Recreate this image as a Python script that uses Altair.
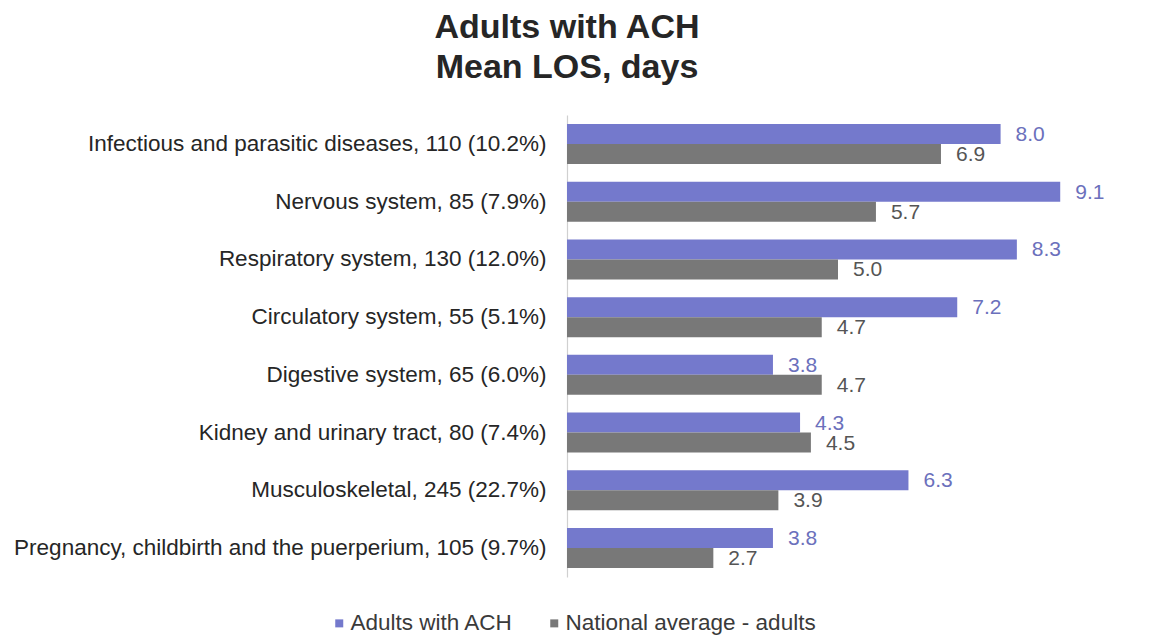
import altair as alt
import pandas as pd

# Diagnostic groups with patient count and share of admissions
categories = [
    "Infectious and parasitic diseases, 110 (10.2%)",
    "Nervous system, 85 (7.9%)",
    "Respiratory system, 130 (12.0%)",
    "Circulatory system, 55 (5.1%)",
    "Digestive system, 65 (6.0%)",
    "Kidney and urinary tract, 80 (7.4%)",
    "Musculoskeletal, 245 (22.7%)",
    "Pregnancy, childbirth and the puerperium, 105 (9.7%)",
]
series = ["Adults with ACH", "National average - adults"]
ach_los = [8.0, 9.1, 8.3, 7.2, 3.8, 4.3, 6.3, 3.8]
national_los = [6.9, 5.7, 5.0, 4.7, 4.7, 4.5, 3.9, 2.7]

colors = ["#7479CC", "#787878"]
label_colors = ["#6B70BC", "#555555"]

rows = []
for cat, a, n in zip(categories, ach_los, national_los):
    rows.append({"group": cat, "series": series[0], "los": a})
    rows.append({"group": cat, "series": series[1], "los": n})
df = pd.DataFrame(rows)

FONT = "Liberation Sans"

y_enc = alt.Y(
    "group:N",
    sort=categories,
    scale=alt.Scale(paddingInner=0.307, paddingOuter=0.156),
    axis=alt.Axis(
        title=None,
        labelFont=FONT,
        labelFontSize=22.5,
        labelColor="#262626",
        labelPadding=21,
        labelLimit=700,
        ticks=False,
        domainColor="#D0D0D0",
        domainWidth=1.2,
    ),
)
y_off = alt.YOffset("series:N", sort=series, scale=alt.Scale(paddingInner=0, paddingOuter=0))
x_enc = alt.X("los:Q", scale=alt.Scale(domain=[0, 10], nice=False), axis=None)

bars = alt.Chart(df).mark_bar(cornerRadius=0).encode(
    y=y_enc,
    yOffset=y_off,
    x=x_enc,
    color=alt.Color(
        "series:N",
        sort=series,
        scale=alt.Scale(domain=series, range=colors),
        legend=alt.Legend(
            title=None,
            orient="none",
            direction="horizontal",
            legendX=-239,
            legendY=497,
            symbolType="square",
            symbolSize=64,
            symbolStrokeWidth=0,
            labelFont=FONT,
            labelFontSize=22.5,
            labelColor="#3A3A3A",
            labelLimit=400,
            columnPadding=29,
            symbolOffset=0,
            labelOffset=0,
        ),
    ),
)

labels = alt.Chart(df).mark_text(
    align="left", baseline="middle", dx=15, dy=1, font=FONT, fontSize=21
).encode(
    y=alt.Y("group:N", sort=categories),
    yOffset=y_off,
    x=x_enc,
    text=alt.Text("los:Q", format=".1f"),
    color=alt.Color("series:N", sort=series, scale=alt.Scale(domain=series, range=label_colors), legend=None),
)

chart = (
    alt.layer(bars, labels)
    .resolve_scale(color="independent")
    .properties(
        width=542,
        height=462,
        padding={"left": 567, "top": 115, "right": 0, "bottom": 62},
        autosize=alt.AutoSizeParams(type="none"),
        background="white",
        title=alt.TitleParams(
            text=["Adults with ACH", "Mean LOS, days"],
            anchor="start",
            frame="group",
            align="center",
            font=FONT,
            fontSize=34,
            fontWeight="bold",
            color="#262626",
            lineHeight=40,
            offset=30,
        ),
    )
    .configure_view(stroke=None)
)

chart.save("out.html", embed_options={"renderer": "svg", "actions": False})
